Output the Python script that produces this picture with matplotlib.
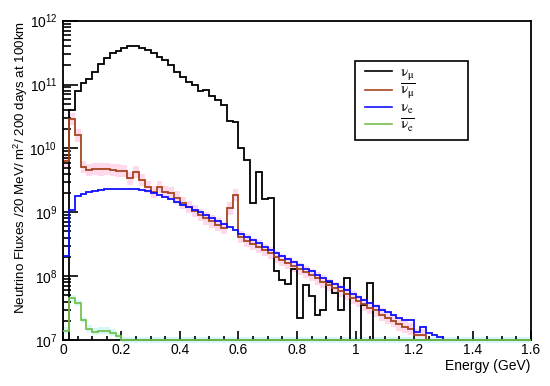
import numpy as np
import matplotlib
matplotlib.use("Agg")
import matplotlib.pyplot as plt
from matplotlib.patches import Rectangle
from matplotlib.ticker import LogLocator, MultipleLocator, FormatStrFormatter, NullFormatter

plt.rcParams['font.family'] = ['Liberation Sans', 'DejaVu Sans']
plt.rcParams['mathtext.fontset'] = 'custom'
plt.rcParams['mathtext.rm'] = 'Liberation Sans'
plt.rcParams['mathtext.it'] = 'Liberation Sans:italic'

# energy bins (GeV), 20 MeV wide
bin_width = 0.02
n_bins = 80

# fluxes per bin
numu = [0, 4.0e10, 8.0e10, 1.05e11, 1.2e11, 1.6e11, 2.1e11, 2.6e11, 3.1e11, 3.4e11,
        3.7e11, 3.95e11, 4.0e11, 3.8e11, 3.5e11, 3.1e11, 2.7e11, 2.4e11, 2.0e11, 1.6e11,
        1.3e11, 1.1e11, 9.8e10, 8.0e10, 8.3e10, 6.5e10, 5.7e10, 4.8e10, 2.7e10, 2.6e10,
        1.0e10, 6.6e9, 1.4e9, 4.3e9, 1.6e9, 1.65e9, 1.2e8, 8.7e7, 7.5e7, 1.3e8,
        2.2e7, 7.3e7, 4.8e7, 2.5e7, 2.9e7, 8.2e7, 5.5e7, 2.9e7, 9.2e7, 0,
        0, 3.5e7, 7.7e7, 0, 0, 0, 0, 0, 0, 0,
        0, 0, 0, 0, 0, 0, 0, 0, 0, 0,
        0, 0, 0, 0, 0, 0, 0, 0, 0, 0]

numubar = [6.3e9, 2.9e10, 1.6e10, 5.1e9, 4.6e9, 4.8e9, 4.7e9, 4.8e9, 4.6e9, 4.5e9,
           4.4e9, 3.4e9, 4.3e9, 3.2e9, 2.5e9, 2.1e9, 2.5e9, 2.1e9, 2.0e9, 1.7e9,
           1.4e9, 1.2e9, 1.05e9, 9.0e8, 8.0e8, 7.2e8, 6.4e8, 5.7e8, 1.15e9, 1.86e9,
           4.1e8, 3.6e8, 3.2e8, 2.9e8, 2.55e8, 2.3e8, 2.0e8, 1.8e8, 1.6e8, 1.45e8,
           1.3e8, 1.15e8, 1.05e8, 9.2e7, 8.2e7, 7.3e7, 6.5e7, 5.8e7, 5.2e7, 4.6e7,
           4.1e7, 3.6e7, 3.2e7, 2.9e7, 2.5e7, 2.2e7, 2.0e7, 1.75e7, 1.6e7, 1.5e7,
           1.2e7, 1.2e7, 0, 0, 0, 0, 0, 0, 0, 0,
           0, 0, 0, 0, 0, 0, 0, 0, 0, 0]

nue = [2.1e8, 1.07e9, 1.8e9, 1.95e9, 2.05e9, 2.15e9, 2.25e9, 2.3e9, 2.35e9, 2.35e9,
       2.35e9, 2.33e9, 2.3e9, 2.22e9, 2.12e9, 2.0e9, 1.88e9, 1.75e9, 1.6e9, 1.45e9,
       1.3e9, 1.2e9, 1.1e9, 1.02e9, 9.1e8, 8.1e8, 7.3e8, 6.5e8, 5.8e8, 5.2e8,
       4.6e8, 4.1e8, 3.7e8, 3.3e8, 2.9e8, 2.6e8, 2.3e8, 2.1e8, 1.85e8, 1.65e8,
       1.5e8, 1.3e8, 1.2e8, 1.05e8, 9.4e7, 8.4e7, 7.5e7, 6.7e7, 6.0e7, 5.3e7,
       4.7e7, 4.2e7, 3.8e7, 3.4e7, 3.0e7, 2.7e7, 2.5e7, 2.2e7, 2.05e7, 2.05e7,
       1.35e7, 1.6e7, 1.27e7, 1.2e7, 1.13e7, 0, 0, 0, 0, 0,
       0, 0, 0, 0, 0, 0, 0, 0, 0, 0]

nuebar = [1.4e7, 4.5e7, 3.8e7, 2.05e7, 1.5e7, 1.35e7, 1.4e7, 1.4e7, 1.3e7, 1.15e7,
          5e6, 0, 0, 0, 0, 0, 0, 0, 0, 0,
          0, 0, 0, 0, 0, 0, 0, 0, 0, 0,
          0, 0, 0, 0, 0, 0, 0, 0, 0, 0,
          0, 0, 0, 0, 0, 0, 0, 0, 0, 0,
          0, 0, 0, 0, 0, 0, 0, 0, 0, 0,
          0, 0, 0, 0, 0, 0, 0, 0, 0, 0,
          0, 0, 0, 0, 0, 0, 0, 0, 0, 0]

labels = [r'$\mathrm{ν}_{\mathrm{μ}}$', r'$\overline{\mathrm{ν}_{\mathrm{μ}}}$',
          r'$\mathrm{ν}_{\mathrm{e}}$', r'$\overline{\mathrm{ν}_{\mathrm{e}}}$']
colors = ['black', '#a5451f', '#1010ff', '#78c050']

edges = np.arange(n_bins + 1) * bin_width
ymin, ymax = 1e7, 1e12

fig = plt.figure(figsize=(5.5, 3.86), dpi=100)
ax = fig.add_axes([0.1145, 0.1192, 0.851, 0.8272])
ax.set_yscale('log')

# error bands
red = np.array(numubar)
ax.stairs(red * 1.25, edges, baseline=red / 1.25, fill=True, color='#ffd8ec', lw=0, zorder=1)
grn = np.maximum(np.array(nuebar), ymin)
ax.stairs(grn * 1.13, edges, baseline=grn / 1.13, fill=True, color='#d4f7f7', lw=0, zorder=1,
          clip_on=False)

for vals, c in zip([numu, numubar, nue], colors[:3]):
    ax.stairs(vals, edges, baseline=0, color=c, lw=1.3, zorder=2)
ax.stairs(grn, edges, baseline=None, color=colors[3], lw=1.3, zorder=3, clip_on=False)

ax.set_xlim(0, 1.6)
ax.set_ylim(ymin, ymax)

ax.xaxis.set_major_locator(MultipleLocator(0.2))
ax.xaxis.set_minor_locator(MultipleLocator(0.05))
ax.xaxis.set_major_formatter(FormatStrFormatter('%g'))
ax.yaxis.set_major_locator(LogLocator(base=10, numticks=10))
ax.yaxis.set_minor_locator(LogLocator(base=10, subs=np.arange(2, 10), numticks=20))
ax.yaxis.set_minor_formatter(NullFormatter())
ax.tick_params(axis='both', which='both', direction='in', top=False, right=False,
               labelsize=10, width=1.2)
ax.tick_params(axis='x', which='major', length=6.5, pad=2.5)
ax.tick_params(axis='x', which='minor', length=3)
ax.tick_params(axis='y', which='major', length=10.5, pad=4)
ax.tick_params(axis='y', which='minor', length=5.5)
for s in ax.spines.values():
    s.set_linewidth(1.3)

fig.text(0.965, 0.052, 'Energy (GeV)', ha='right', va='center', fontsize=10)
fig.text(0.038, 0.946, 'Neutrino Fluxes /20 MeV/ m$^2$/ 200 days at 100km',
         rotation=90, ha='center', va='top', fontsize=9.6)

# legend box
ax.add_patch(Rectangle((0.624, 0.626), 0.241, 0.249, transform=ax.transAxes,
                       facecolor='white', edgecolor='black', lw=1.2, zorder=4))
handles = [plt.Line2D([], [], color=c, lw=1.2) for c in colors]
leg = ax.legend(handles, labels, loc='upper left', bbox_to_anchor=(0.632, 0.88),
                frameon=False, handlelength=1.8, handletextpad=0.5,
                labelspacing=0.0, borderaxespad=0, prop={'size': 11, 'math_fontfamily': 'stix'})
leg.set_zorder(5)

fig.savefig('out.png', dpi=100)
